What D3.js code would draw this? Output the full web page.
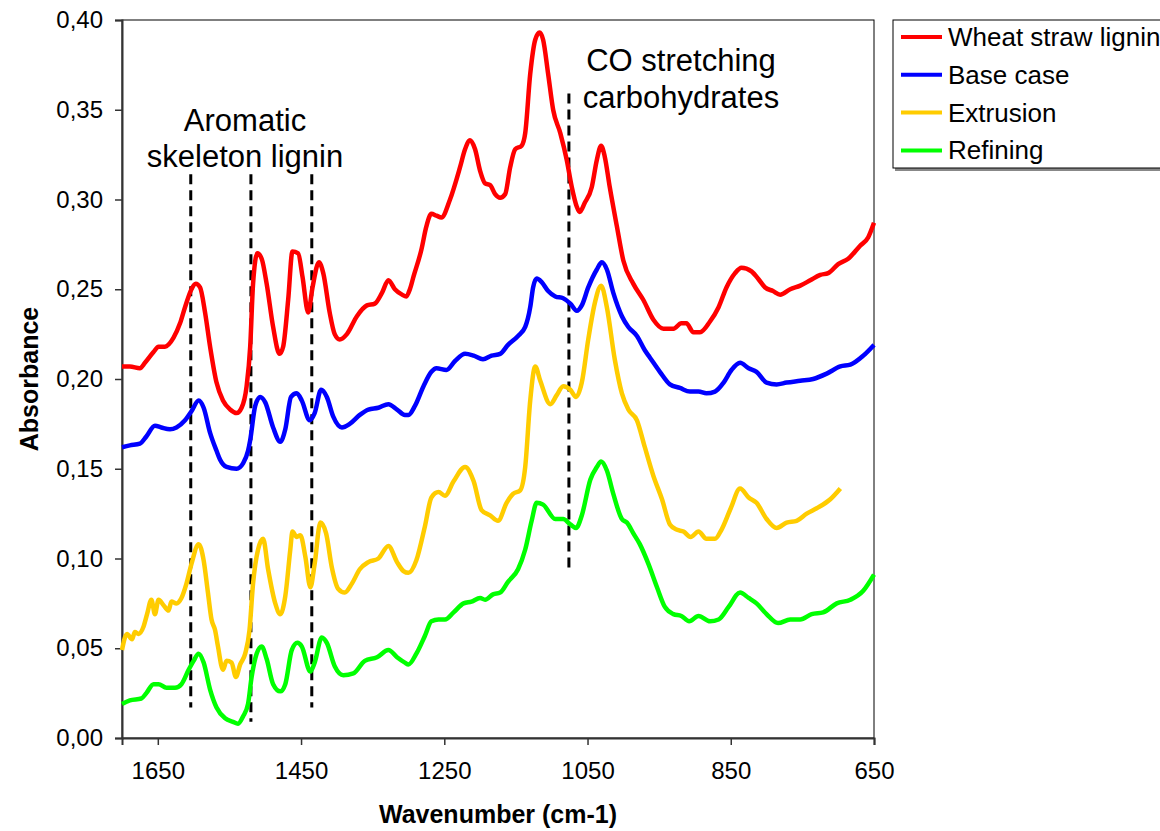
<!DOCTYPE html>
<meta charset="utf-8">
<script src="https://d3js.org/d3.v7.min.js"></script>
<style>
  body { margin: 0; background: #fff; }
  text { font-family: "Liberation Sans", Arial, sans-serif; }
</style>
<div id="chart"></div>
<script>
// wavenumbers (cm-1) and absorbance for each spectrum
var wheatWn = [1700,1689,1675,1668,1656,1649,1640,1628,1619,1612,1603,1597,1591,1584,1577,1568,1559,1549,1540,1533,1526,1521,1517,1511,1505,1498,1489,1480,1475,1468,1462,1454,1448,1440,1434,1425,1419,1410,1403,1396,1386,1372,1358,1347,1337,1328,1319,1309,1303,1298,1293,1282,1275,1268,1261,1254,1242,1228,1221,1214,1207,1200,1193,1186,1179,1172,1165,1158,1151,1142,1137,1130,1123,1117,1112,1105,1098,1088,1079,1072,1065,1061,1054,1044,1037,1031,1026,1019,1009,1000,986,972,958,944,930,919,912,902,893,879,867,856,844,835,821,812,802,791,781,767,753,739,725,714,700,686,670,658,650]
var wheatAbs = [0.207,0.207,0.206,0.209,0.215,0.218,0.218,0.223,0.231,0.240,0.250,0.253,0.251,0.237,0.218,0.198,0.188,0.183,0.181,0.184,0.196,0.218,0.253,0.270,0.267,0.253,0.229,0.214,0.218,0.244,0.271,0.270,0.257,0.237,0.251,0.265,0.259,0.237,0.225,0.222,0.225,0.235,0.241,0.242,0.248,0.255,0.250,0.247,0.246,0.250,0.257,0.272,0.285,0.292,0.291,0.290,0.300,0.318,0.328,0.333,0.328,0.316,0.309,0.308,0.303,0.301,0.303,0.318,0.328,0.330,0.337,0.370,0.389,0.393,0.389,0.370,0.350,0.337,0.322,0.307,0.296,0.293,0.298,0.307,0.322,0.330,0.324,0.307,0.285,0.266,0.253,0.244,0.233,0.228,0.228,0.231,0.231,0.226,0.226,0.232,0.240,0.251,0.259,0.262,0.260,0.256,0.251,0.249,0.247,0.250,0.252,0.255,0.258,0.259,0.264,0.267,0.274,0.279,0.287]

var baseWn = [1700,1689,1675,1666,1654,1645,1633,1624,1612,1603,1593,1586,1577,1568,1563,1554,1540,1531,1524,1521,1514,1507,1500,1489,1479,1472,1464,1456,1449,1438,1431,1422,1414,1405,1393,1382,1368,1356,1342,1328,1316,1305,1300,1291,1279,1268,1261,1247,1235,1221,1209,1196,1184,1172,1161,1147,1137,1130,1126,1121,1114,1105,1095,1084,1074,1065,1058,1049,1037,1030,1023,1014,1002,993,981,970,963,949,935,921,907,895,884,872,860,849,837,825,814,800,786,772,753,735,716,697,683,665,650]
var baseAbs = [0.162,0.163,0.164,0.168,0.174,0.173,0.172,0.173,0.177,0.182,0.188,0.184,0.170,0.160,0.155,0.151,0.150,0.153,0.160,0.166,0.185,0.190,0.187,0.173,0.165,0.172,0.190,0.192,0.188,0.177,0.181,0.194,0.190,0.179,0.173,0.175,0.180,0.183,0.184,0.186,0.183,0.180,0.180,0.185,0.196,0.204,0.206,0.205,0.210,0.214,0.213,0.211,0.213,0.214,0.219,0.224,0.229,0.240,0.251,0.256,0.254,0.249,0.246,0.245,0.242,0.238,0.241,0.251,0.261,0.265,0.261,0.248,0.235,0.229,0.224,0.216,0.212,0.204,0.197,0.195,0.193,0.193,0.192,0.193,0.198,0.205,0.209,0.206,0.204,0.198,0.197,0.198,0.199,0.200,0.203,0.207,0.208,0.213,0.219]

var extrWn = [1700,1693,1686,1682,1677,1670,1665,1659,1654,1649,1642,1635,1631,1624,1617,1610,1603,1593,1586,1580,1575,1570,1566,1559,1554,1547,1541,1535,1528,1522,1517,1510,1503,1496,1486,1479,1472,1465,1462,1456,1451,1444,1437,1431,1423,1415,1407,1398,1389,1379,1368,1356,1342,1328,1316,1307,1300,1289,1277,1268,1258,1249,1237,1221,1209,1198,1186,1175,1163,1154,1144,1137,1130,1123,1116,1102,1093,1084,1074,1066,1058,1049,1040,1031,1023,1012,1002,993,981,970,958,946,935,925,916,906,895,884,872,863,850,837,825,814,800,786,772,758,744,730,711,697]
var extrAbs = [0.049,0.058,0.055,0.059,0.058,0.062,0.069,0.077,0.069,0.077,0.074,0.071,0.076,0.075,0.078,0.086,0.097,0.108,0.099,0.081,0.066,0.060,0.051,0.038,0.043,0.042,0.034,0.041,0.047,0.060,0.086,0.105,0.111,0.094,0.075,0.069,0.079,0.105,0.115,0.112,0.113,0.101,0.084,0.097,0.120,0.114,0.095,0.083,0.081,0.086,0.094,0.098,0.100,0.107,0.098,0.093,0.092,0.099,0.118,0.134,0.137,0.135,0.143,0.151,0.143,0.127,0.124,0.121,0.131,0.136,0.138,0.151,0.188,0.207,0.199,0.186,0.191,0.196,0.194,0.190,0.198,0.222,0.242,0.252,0.240,0.211,0.192,0.183,0.177,0.162,0.146,0.133,0.119,0.116,0.115,0.112,0.115,0.111,0.111,0.116,0.128,0.139,0.134,0.131,0.122,0.117,0.120,0.121,0.125,0.128,0.133,0.139]

var refWn = [1700,1689,1673,1666,1656,1649,1638,1626,1617,1607,1600,1593,1586,1577,1568,1556,1545,1538,1531,1524,1519,1512,1505,1498,1489,1479,1472,1463,1455,1449,1437,1431,1421,1414,1403,1391,1377,1361,1344,1328,1316,1305,1300,1289,1277,1268,1258,1249,1237,1223,1212,1200,1193,1182,1172,1161,1147,1137,1128,1121,1112,1095,1084,1074,1066,1058,1046,1037,1031,1023,1014,1002,995,986,977,965,953,942,930,919,908,895,879,867,853,837,825,814,800,784,767,753,737,721,702,683,665,650]
var refAbs = [0.019,0.021,0.022,0.025,0.030,0.030,0.028,0.028,0.030,0.038,0.043,0.047,0.042,0.027,0.017,0.011,0.009,0.008,0.012,0.019,0.034,0.047,0.051,0.044,0.030,0.026,0.030,0.049,0.053,0.051,0.037,0.042,0.056,0.053,0.040,0.035,0.036,0.043,0.045,0.049,0.045,0.042,0.041,0.047,0.057,0.065,0.066,0.066,0.070,0.075,0.076,0.078,0.077,0.080,0.081,0.087,0.094,0.105,0.121,0.131,0.130,0.122,0.122,0.119,0.117,0.124,0.144,0.151,0.154,0.149,0.136,0.122,0.120,0.114,0.108,0.097,0.084,0.073,0.069,0.068,0.065,0.068,0.065,0.066,0.073,0.081,0.078,0.075,0.069,0.064,0.066,0.066,0.069,0.070,0.075,0.077,0.082,0.091]

var seriesNames = ["Wheat straw lignin", "Base case", "Extrusion", "Refining"]
var seriesColors = ["#ff0000", "#0000ff", "#ffcc00", "#00ff00"]

var xTicks = [1650, 1450, 1250, 1050, 850, 650]
var yTicks = [0, 0.05, 0.10, 0.15, 0.20, 0.25, 0.30, 0.35, 0.40]

// dashed marker lines: wavenumber, top and bottom absorbance
var markWn = [1604, 1520, 1435, 1076]
var markTop = [0.314, 0.314, 0.314, 0.359]
var markBottom = [0.017, 0.009, 0.017, 0.092]

var width = 1160, height = 831
var margin = {top: 20, right: 286, bottom: 93, left: 122}

var svg = d3.select("#chart").append("svg")
    .attr("width", width)
    .attr("height", height)

var x = d3.scaleLinear().domain([1700, 650]).range([margin.left, width - margin.right])
var y = d3.scaleLinear().domain([0, 0.40]).range([height - margin.bottom, margin.top])

var loc = d3.formatLocale({decimal: ",", thousands: ".", grouping: [3], currency: ["", ""]})
var fmt = loc.format(".2f")

// plot frame
svg.append("rect")
    .attr("x", x(1700)).attr("y", y(0.40))
    .attr("width", x(650) - x(1700)).attr("height", y(0) - y(0.40))
    .attr("fill", "none").attr("stroke", "#000").attr("stroke-width", 1)

// axes
var yAxis = svg.append("g")
    .attr("transform", "translate(" + margin.left + ",0)")
    .call(d3.axisLeft(y).tickValues(yTicks).tickFormat(fmt).tickSize(7).tickPadding(12))
var xAxis = svg.append("g")
    .attr("transform", "translate(0," + y(0) + ")")
    .call(d3.axisBottom(x).tickValues(xTicks).tickFormat(d3.format("d")).tickSize(7).tickPadding(11))

svg.selectAll(".domain").attr("stroke", "#333").attr("stroke-width", 2)
svg.selectAll(".tick line").attr("stroke", "#333").attr("stroke-width", 1.5)
svg.selectAll(".tick text").attr("font-size", 24).attr("fill", "#000")
  .attr("font-family", "Liberation Sans, Arial, sans-serif")
xAxis.selectAll(".tick text").attr("dy", "0.95em")

// axis titles
svg.append("text")
    .attr("x", (x(1700) + x(650)) / 2).attr("y", 823)
    .attr("text-anchor", "middle").attr("font-size", 25).attr("font-weight", "bold")
    .text("Wavenumber (cm-1)")
svg.append("text")
    .attr("transform", "translate(38," + (y(0) + y(0.40)) / 2 + ") rotate(-90)")
    .attr("text-anchor", "middle").attr("font-size", 25).attr("font-weight", "bold")
    .text("Absorbance")

// dashed lines
markWn.forEach(function(w, i) {
  svg.append("line")
    .attr("x1", x(w)).attr("x2", x(w))
    .attr("y1", y(markTop[i])).attr("y2", y(markBottom[i]))
    .attr("stroke", "#000").attr("stroke-width", 3)
    .attr("stroke-dasharray", "10,6")
})

// spectra
var wnList = [wheatWn, baseWn, extrWn, refWn]
var absList = [wheatAbs, baseAbs, extrAbs, refAbs]
var line = d3.line()
    .x(function(d) { return x(d[0]) })
    .y(function(d) { return y(d[1]) })
    .curve(d3.curveMonotoneX)

wnList.forEach(function(wn, i) {
  var pts = wn.map(function(w, j) { return [w, absList[i][j]] })
  svg.append("path")
    .attr("d", line(pts))
    .attr("fill", "none")
    .attr("stroke", seriesColors[i])
    .attr("stroke-width", 4.5)
    .attr("stroke-linejoin", "round")
})

// annotations
var ann = svg.append("g").attr("font-size", 31).attr("text-anchor", "middle")
ann.append("text").attr("x", 245).attr("y", 131).text("Aromatic")
ann.append("text").attr("x", 245).attr("y", 167).text("skeleton lignin")
ann.append("text").attr("x", 681).attr("y", 71).text("CO stretching")
ann.append("text").attr("x", 681).attr("y", 108).text("carbohydrates")

// legend
var lg = svg.append("g")
lg.append("rect").attr("x", 895).attr("y", 22).attr("width", 300).attr("height", 149).attr("fill", "#888")
lg.append("rect").attr("x", 893).attr("y", 20).attr("width", 300).attr("height", 148)
    .attr("fill", "#fff").attr("stroke", "#000").attr("stroke-width", 1)
seriesNames.forEach(function(name, i) {
  var ly = 37 + i * 37.8
  lg.append("line").attr("x1", 901).attr("x2", 942).attr("y1", ly).attr("y2", ly)
    .attr("stroke", seriesColors[i]).attr("stroke-width", 4)
  lg.append("text").attr("x", 948).attr("y", ly + 9).attr("font-size", 26).text(name)
})
</script>
